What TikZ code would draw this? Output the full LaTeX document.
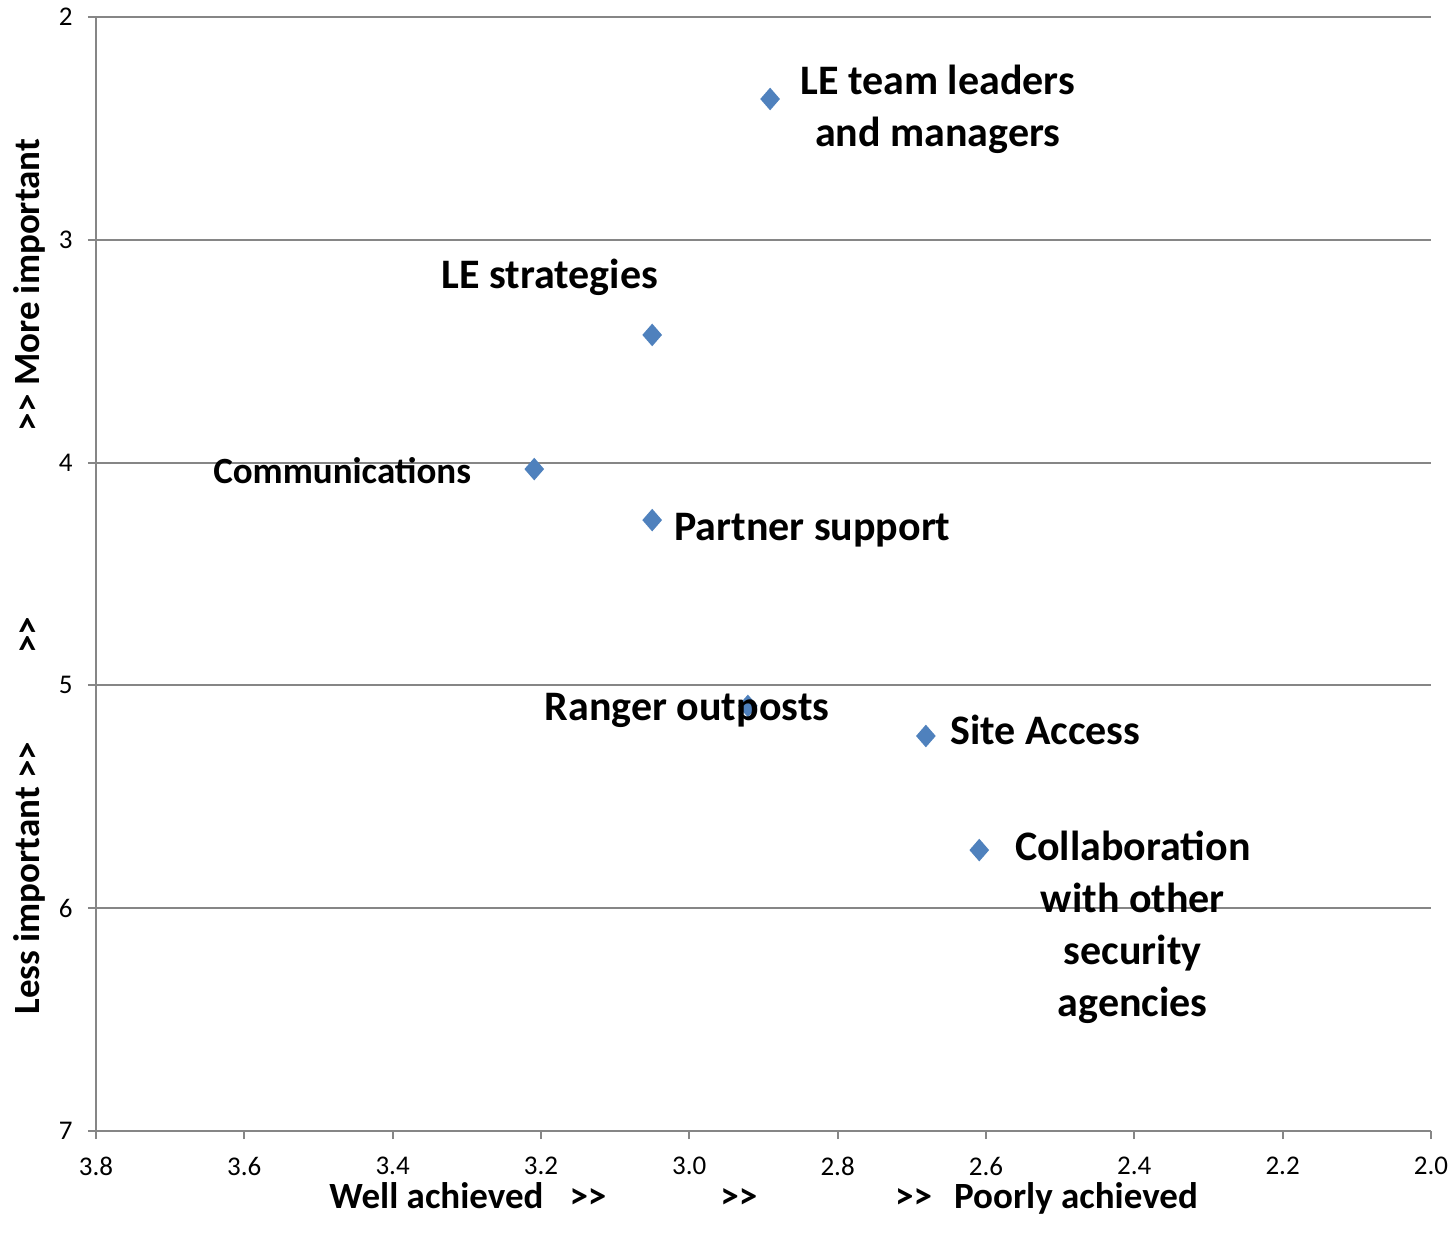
\documentclass[tikz,border=0pt]{standalone}
\usepackage{fontspec}
\setmainfont{Carlito}
\usetikzlibrary{shapes.geometric}
\definecolor{markblue}{HTML}{4F81BD}
\definecolor{axisgray}{HTML}{868686}

\begin{document}
\begin{tikzpicture}[x=-370.83pt,y=-111.4pt]

\tikzset{point/.style = {shape=diamond,fill=markblue,inner sep=0pt,minimum width=10pt,minimum height=11.5pt}}
\tikzset{tag/.style = {font=\fontsize{21}{26}\selectfont\bfseries,align=center,inner sep=0pt}}
\tikzset{gridline/.style = {draw=axisgray,line width=1pt}}
\tikzset{ticklabel/.style = {font=\fontsize{13.5}{15}\selectfont,inner sep=0pt}}
\tikzset{title/.style = {font=\fontsize{18.5}{22}\selectfont\bfseries,inner sep=0pt}}

\useasboundingbox (3.9294,1.9237) rectangle (1.9703,7.5072);

%grid and axes
\foreach \y in {2,...,6}
  \draw[gridline] (3.8,\y) -- (2.0,\y);
\draw[gridline] (3.8,2) -- (3.8,7) -- (2.0,7);
\foreach \y in {2,...,7} {
  \draw[gridline] ([xshift=-4pt]3.8,\y) -- (3.8,\y);
  \node[ticklabel, anchor=east] (ylab\y) at ([xshift=-11.5pt]3.8,\y) {\y};
}
\foreach \x [count=\i] in {3.8,3.6,3.4,3.2,3.0,2.8,2.6,2.4,2.2,2.0} {
  \draw[gridline] ([yshift=-4pt]\x,7) -- (\x,7);
  \node[ticklabel] (xlab\i) at ([yshift=-17.5pt]\x,7) {\x};
}

%axis titles
\node[title, anchor=west] (xtitle) at (3.4858,7.303)
  {Well achieved\hspace{13pt}>{}>\hspace{57pt}>{}>\hspace{69pt}>{}>\hspace{11pt}Poorly achieved};
\node[title, rotate=90, anchor=west] (ytitle) at (3.889,6.479)
  {Less important >{}>\hspace{44pt}>{}>\hspace{93pt}>{}> More important};

%points
\node[point] (leaders) at (2.891,2.368) {};
\node[point] (strategies) at (3.05,3.427) {};
\node[point] (comms) at (3.209,4.029) {};
\node[point] (partner) at (3.05,4.258) {};
\node[point] (ranger) at (2.921,5.092) {};
\node[point] (access) at (2.681,5.227) {};
\node[point] (collab) at (2.609,5.739) {};

%labels
\node[tag] (leaders tag) at (2.665,2.414) {LE team leaders\\and managers};
\node[tag] (strategies tag) at (3.188,3.167) {LE strategies};
\node[tag, font=\fontsize{18.5}{22}\selectfont\bfseries] (comms tag) at (3.468,4.035) {Communications};
\node[tag] (partner tag) at (2.834,4.305) {Partner support};
\node[tag] (ranger tag) at (3.003,5.113) {Ranger outposts};
\node[tag] (access tag) at (2.520,5.198) {Site Access};
\node[tag] (collab tag) at (2.402,6.085) {Collaboration\\with other\\security\\agencies};

\end{tikzpicture}
\end{document}
